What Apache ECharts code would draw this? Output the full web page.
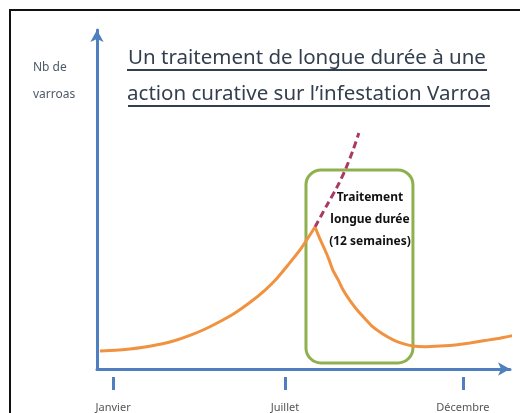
<!DOCTYPE html>
<html>
<head>
<meta charset="utf-8">
<script src="https://cdn.jsdelivr.net/npm/echarts@6/dist/echarts.min.js"></script>
<style>
html, body { margin: 0; padding: 0; background: #fff; }
#chart { width: 520px; height: 413px; }
</style>
</head>
<body>
<div id="chart"></div>
<script>
// unités arbitraires : temps 0-100 (axe x), nb de varroas 0-100 (axe y)
var monthTicks = [3.9, 45.5, 88.6];
var monthNames = ['Janvier', 'Juillet', 'Décembre'];

// montée de l'infestation jusqu'au début du traitement
var growthX = [0.7, 4.4, 8.0, 11.6, 15.3, 18.9, 22.5, 26.2, 29.8, 33.4, 37.0, 40.7, 43.6, 46.2, 49.2, 52.8];
var growthY = [5.3, 5.5, 5.9, 6.5, 7.3, 8.4, 9.9, 11.8, 14.0, 16.5, 19.6, 23.3, 26.8, 30.6, 35.2, 41.9];

// effet du traitement puis reprise lente
var treatedX = [52.8, 54.0, 55.2, 56.2, 57.1, 58.4, 59.6, 61.3, 63.0, 65.0, 66.8, 69.2, 71.7,
    74.1, 76.5, 79.4, 83.1, 86.7, 90.3, 93.9, 97.6, 102.4];
var treatedY = [41.9, 38.3, 35.1, 32.2, 29.2, 26.3, 23.3, 20.1, 17.4, 14.7, 12.4, 10.3, 8.6,
    7.5, 6.8, 6.6, 6.8, 7.1, 7.7, 8.4, 9.1, 10.3];

// sans traitement (pointillés)
var untreatedX = [52.8, 55.7, 58.4, 60.3, 62.0, 63.4];
var untreatedY = [41.9, 48.4, 54.3, 59.3, 64.6, 69.6];

// cadre du traitement longue durée : [debut, fin, haut, bas]
var treatmentBox = [50.6, 76.5, 58.7, 1.8];
var treatmentLabel = ['Traitement', 'longue durée', '(12 semaines)'];
var treatmentLabelPos = [66.1, 44.1];

var blue = '#4f7fbf';

function zip(xs, ys) {
    var out = [];
    for (var i = 0; i < xs.length; i++) out.push([xs[i], ys[i]]);
    return out;
}

var myChart = echarts.init(document.getElementById('chart'));

var option = {
    animation: false,
    grid: { left: 97, right: 10, top: 30, bottom: 44 },
    xAxis: [
        {
            type: 'value', min: 0, max: 100,
            axisLine: { show: true, onZero: false, symbol: ['none', 'arrow'], symbolSize: [10, 12],
                lineStyle: { color: blue, width: 3 } },
            axisTick: { show: false },
            axisLabel: { show: false },
            splitLine: { show: false }
        },
        {
            type: 'value', min: 0, max: 100, position: 'bottom', offset: 8,
            axisLine: { show: false, onZero: false },
            axisTick: { show: true, inside: false, length: 13, customValues: monthTicks,
                lineStyle: { color: blue, width: 3 } },
            axisLabel: {
                customValues: monthTicks, margin: 25, color: '#555', fontSize: 11,
                fontFamily: 'Noto Sans',
                formatter: function (v) {
                    var best = 0;
                    for (var i = 1; i < monthTicks.length; i++) {
                        if (Math.abs(monthTicks[i] - v) < Math.abs(monthTicks[best] - v)) best = i;
                    }
                    return monthNames[best];
                }
            },
            splitLine: { show: false }
        }
    ],
    yAxis: {
        type: 'value', min: 0, max: 100,
        axisLine: { show: true, onZero: false, symbol: ['none', 'arrow'], symbolSize: [10, 12],
            lineStyle: { color: blue, width: 3 } },
        axisTick: { show: false },
        axisLabel: { show: false },
        splitLine: { show: false }
    },
    graphic: [
        // cadre noir
        { type: 'polyline', shape: { points: [[10, 413], [10, 10], [520, 10]] },
          style: { stroke: '#111', lineWidth: 2, fill: null }, silent: true },
        // titre de l'axe y
        { type: 'text', left: 33, top: 62,
          style: { text: 'Nb de', fill: '#4d5968', fontSize: 12, fontFamily: 'Noto Sans' } },
        { type: 'text', left: 33, top: 89,
          style: { text: 'varroas', fill: '#4d5968', fontSize: 12, fontFamily: 'Noto Sans' } },
        // titre souligné
        { type: 'text', x: 307, y: 58,
          style: { text: 'Un traitement de longue durée à une', fill: '#333f4f', fontSize: 20.5,
            fontFamily: 'Noto Sans', align: 'center', verticalAlign: 'middle' } },
        { type: 'text', x: 309, y: 94,
          style: { text: 'action curative sur l\u2019infestation Varroa', fill: '#333f4f', fontSize: 20.5,
            fontFamily: 'Noto Sans', align: 'center', verticalAlign: 'middle' } },
        { type: 'line', shape: { x1: 127, y1: 70, x2: 487, y2: 70 },
          style: { stroke: '#333f4f', lineWidth: 2 } },
        { type: 'line', shape: { x1: 128, y1: 106, x2: 490, y2: 106 },
          style: { stroke: '#333f4f', lineWidth: 2 } }
    ],
    series: [
        {
            type: 'custom', xAxisIndex: 0, yAxisIndex: 0, z: 1,
            data: [treatmentBox],
            renderItem: function (params, api) {
                var p0 = api.coord([api.value(0), api.value(2)]);
                var p1 = api.coord([api.value(1), api.value(3)]);
                var t = api.coord(treatmentLabelPos);
                return {
                    type: 'group',
                    children: [
                        { type: 'rect',
                          shape: { x: p0[0], y: p0[1], width: p1[0] - p0[0], height: p1[1] - p0[1], r: 15 },
                          style: { fill: null, stroke: '#8fb04f', lineWidth: 3 } },
                        { type: 'text', x: t[0], y: t[1],
                          style: { text: treatmentLabel.join('\n'), fill: '#111', fontSize: 12,
                            fontWeight: 'bold', fontFamily: 'Noto Sans', lineHeight: 22,
                            align: 'center', verticalAlign: 'middle' } }
                    ]
                };
            }
        },
        {
            type: 'line', data: zip(untreatedX, untreatedY), smooth: 0.3, showSymbol: false,
            clip: false, z: 2,
            lineStyle: { color: '#a83a64', width: 3, type: [7, 4] }
        },
        {
            type: 'line', data: zip(growthX, growthY), smooth: 0.2,
            showSymbol: false, clip: false, z: 3,
            lineStyle: { color: '#f0923f', width: 3 }
        },
        {
            type: 'line', data: zip(treatedX, treatedY), smooth: 0.2,
            showSymbol: false, clip: false, z: 3,
            lineStyle: { color: '#f0923f', width: 3 }
        }
    ]
};

myChart.setOption(option);
window.addEventListener('resize', function () { myChart.resize(); });
</script>
</body>
</html>
